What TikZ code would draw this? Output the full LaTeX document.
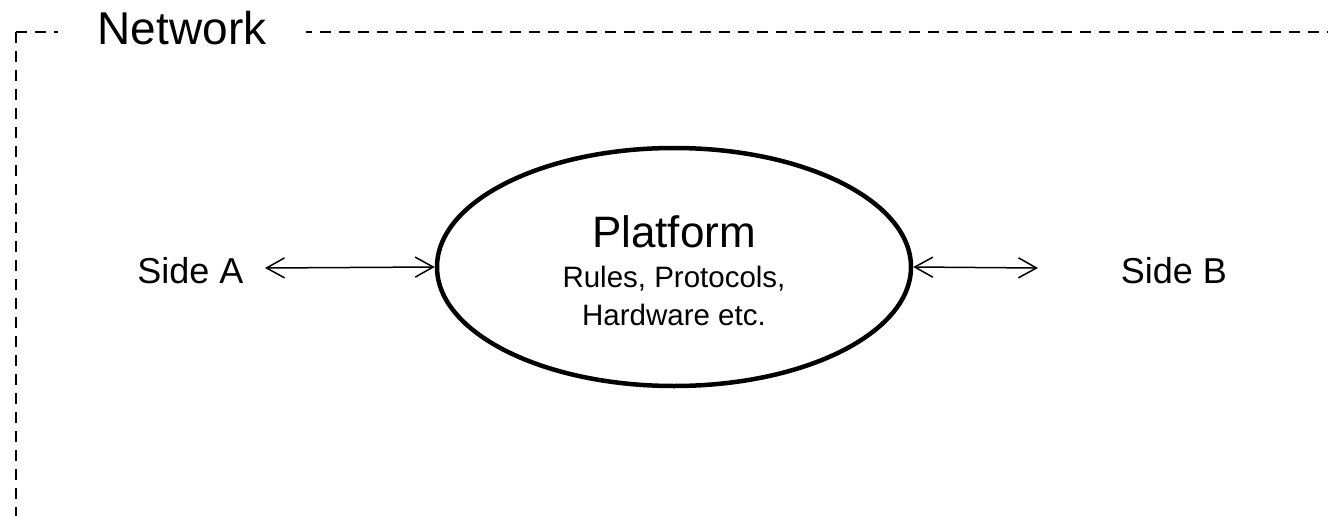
\documentclass[tikz,border=0pt]{standalone}
\usepackage{fontspec}
\setmainfont{Liberation Sans}
\usetikzlibrary{arrows.meta,shapes.geometric}
\tikzset{
  frame/.style={line width=2.8pt, dash pattern=on 11pt off 8pt},
  conn/.style={line width=1.5pt, {Straight Barb[length=18pt,width=20pt]}-{Straight Barb[length=18pt,width=20pt]}},
  plat/.style={draw, ellipse, line width=4.5pt, minimum width=474pt, minimum height=238pt, inner sep=0pt},
  side/.style={anchor=base, font=\fontsize{36}{40}\selectfont},
  big/.style={anchor=base, inner sep=0pt, font=\fontsize{44}{48}\selectfont},
  small/.style={anchor=base, inner sep=0pt, font=\fontsize{29.5}{34}\selectfont}
}
\begin{document}
\begin{tikzpicture}[x=1pt,y=-1pt]
\useasboundingbox (0,0) rectangle (1328,516);
% dashed frame (continues beyond the picture)
\coordinate (corner) at (16,32);
\coordinate (fbot) at (16,530);
\coordinate (fright) at (1345,32);
\draw[frame] (corner) -- (fbot);
\draw[frame] (corner) -- (fright);
\node[fill=white, inner xsep=40pt, inner ysep=4pt, anchor=base, font=\fontsize{46}{50}\selectfont] (net) at (182,45) {Network};
% platform
\node[plat] (pf) at (674,267) {};
\node[big] (pt) at (674,247) {Platform};
\node[small] (p1) at (674,287) {Rules, Protocols,};
\node[small] (p2) at (674,325) {Hardware etc.};
% sides
\node[side] (sa) at (190.5,283) {Side A};
\node[side] (sb) at (1174,283) {Side B};
\coordinate (la) at (265,268);
\coordinate (rb) at (1038,268);
\draw[conn] (la) -- (pf.west);
\draw[conn] (pf.east) -- (rb);
\end{tikzpicture}
\end{document}
